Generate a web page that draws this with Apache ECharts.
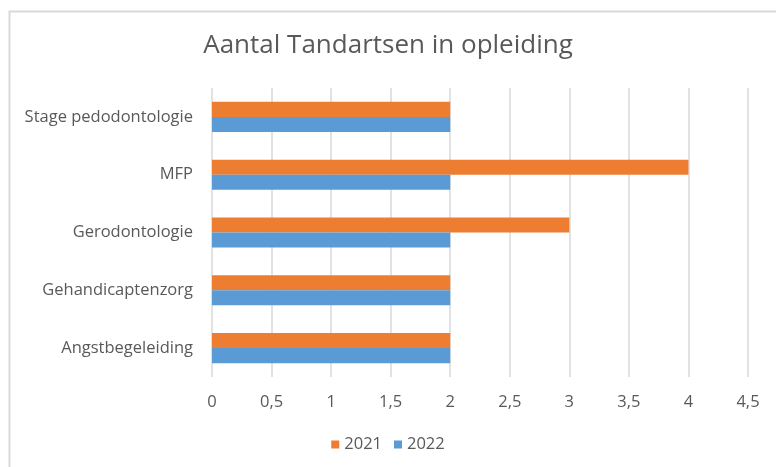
<!DOCTYPE html>
<html><head><meta charset="utf-8">
<script src="https://cdn.jsdelivr.net/npm/echarts@6/dist/echarts.min.js"></script>
<style>html,body{margin:0;padding:0;background:#fff}#c{width:776px;height:467px}</style>
</head><body><div id="c"></div>
<script>
const categories = ['Angstbegeleiding', 'Gehandicaptenzorg', 'Gerodontologie', 'MFP', 'Stage pedodontologie'];
const values2021 = [2, 2, 3, 4, 2];
const values2022 = [2, 2, 2, 2, 2];
const seriesNames = ['2021', '2022'];
const xTicks = { min: 0, max: 4.5, interval: 0.5 };

const font = '"Open Sans", "Liberation Sans", sans-serif';
const chart = echarts.init(document.getElementById('c'), null, { renderer: 'canvas' });
chart.setOption({
  animation: false,
  backgroundColor: '#fff',
  graphic: [{
    type: 'rect', left: 7, top: 9, shape: { width: 800, height: 500 },
    style: { fill: 'none', stroke: '#D9D9D9', lineWidth: 2 }, silent: true
  }],
  title: {
    text: 'Aantal Tandartsen in opleiding', left: 'center', top: 28,
    textStyle: { fontFamily: font, fontSize: 26, fontWeight: 'normal', color: '#595959' }
  },
  legend: {
    data: seriesNames, bottom: 9, left: 'center', itemWidth: 8, itemHeight: 8, itemGap: 12,
    icon: 'rect',
    textStyle: { fontFamily: font, fontSize: 16.5, color: '#595959' }
  },
  grid: { left: 212, right: 28, top: 88, bottom: 90, containLabel: false },
  xAxis: {
    type: 'value', min: xTicks.min, max: xTicks.max, interval: xTicks.interval,
    axisLine: { show: false }, axisTick: { show: false },
    splitLine: { lineStyle: { color: '#D9D9D9', width: 1.5 } },
    axisLabel: { fontFamily: font, fontSize: 16.5, color: '#595959', margin: 17,
      formatter: v => String(v).replace('.', ',') }
  },
  yAxis: {
    type: 'category', data: categories,
    axisLine: { show: false }, axisTick: { show: false },
    axisLabel: { fontFamily: font, fontSize: 16.5, color: '#595959', margin: 19 }
  },
  series: [
    { name: '2021', type: 'bar', data: values2021, itemStyle: { color: '#ED7D31' }, barGap: '0%', barCategoryGap: '48%' },
    { name: '2022', type: 'bar', data: values2022, itemStyle: { color: '#5B9BD5' }, barGap: '0%', barCategoryGap: '48%' }
  ]
});
</script></body></html>
